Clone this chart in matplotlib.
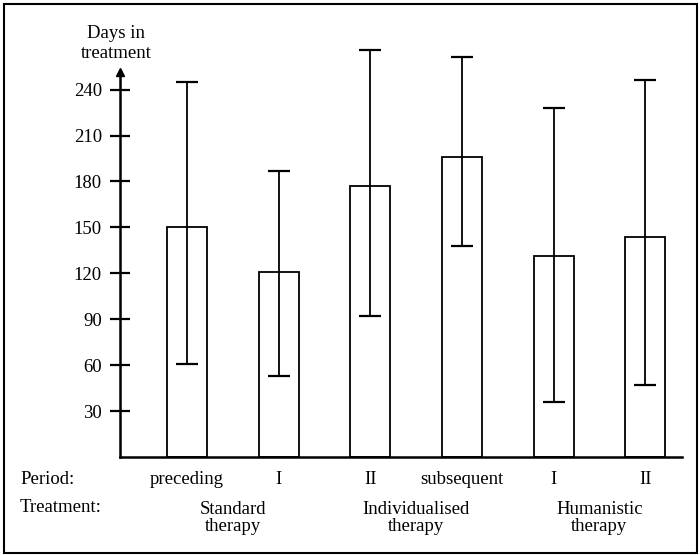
import matplotlib
matplotlib.use("Agg")
import matplotlib.pyplot as plt
from matplotlib.patches import Rectangle

# values (days in treatment)
periods = ['preceding', 'I', 'II', 'subsequent', 'I', 'II']
treatments = ['Standard\ntherapy', 'Individualised\ntherapy', 'Humanistic\ntherapy']
means = [150, 121, 177, 196, 131, 144]
upper = [245, 187, 266, 261, 228, 246]
lower = [61, 53, 92, 138, 36, 47]
yticks = [30, 60, 90, 120, 150, 180, 210, 240]

plt.rcParams['font.family'] = ['Liberation Serif', 'DejaVu Serif']
plt.rcParams['font.size'] = 13.5

W, H = 700, 555
fig = plt.figure(figsize=(7, 5.55), dpi=100)
ax = fig.add_axes([120 / W, (H - 457) / H, (682 - 120) / W, (457 - 72) / H])

x = list(range(len(means)))
ax.bar(x, means, width=0.437, color='white', edgecolor='black', linewidth=1.3, zorder=2)
err_lo = [m - l for m, l in zip(means, lower)]
err_hi = [u - m for m, u in zip(means, upper)]
eb = ax.errorbar(x, means, yerr=[err_lo, err_hi], fmt='none', ecolor='black',
                 elinewidth=1.3, capsize=8, capthick=1.6, zorder=3)
for art in eb.lines[1] + eb.lines[2]:
    art.set_clip_on(False)

ax.set_xlim(-0.73, 5.40)
ax.set_ylim(0, 251.5)
ax.set_yticks(yticks)
ax.set_xticks([])
ax.tick_params(axis='y', direction='inout', length=14, width=1.6, pad=6)
for s in ['top', 'right']:
    ax.spines[s].set_visible(False)
ax.spines['left'].set_linewidth(1.8)
ax.spines['bottom'].set_linewidth(1.8)
ax.plot([0], [1], marker='^', color='black', ms=6, transform=ax.transAxes,
        clip_on=False)

# y label at top of axis
fig.text(116 / W, 1 - 33 / H, 'Days in', ha='center', va='center')
fig.text(116 / W, 1 - 53 / H, 'treatment', ha='center', va='center')

# period and treatment rows
row1 = 480
row2 = 508
fig.text(20 / W, 1 - row1 / H, 'Period:', ha='left', va='center')
fig.text(20 / W, 1 - row2 / H, 'Treatment:', ha='left', va='center')
for xi, p in zip(x, periods):
    ax.annotate(p, xy=(xi, 0), xycoords=('data', 'axes fraction'),
                xytext=(xi, 1 - row1 / H), textcoords=('data', 'figure fraction'),
                ha='center', va='center')
for i, t in enumerate(treatments):
    xc = (x[2 * i] + x[2 * i + 1]) / 2
    ax.annotate(t, xy=(xc, 0), xycoords=('data', 'axes fraction'),
                xytext=(xc, 1 - (row2 + 10) / H), textcoords=('data', 'figure fraction'),
                ha='center', va='center', linespacing=1.05)

# outer frame
fig.patches.append(Rectangle((4 / W, 1 - 553 / H), (697 - 4) / W, (553 - 4) / H,
                             transform=fig.transFigure, fill=False,
                             edgecolor='black', linewidth=1.5))

fig.savefig('out.png', dpi=100)
